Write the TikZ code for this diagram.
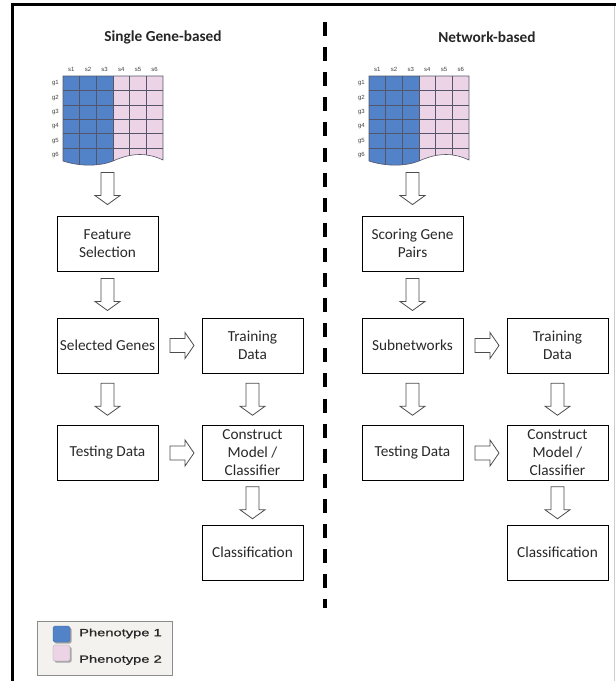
\documentclass[tikz,border=0pt]{standalone}
\usepackage{fontspec}
\setmainfont{Carlito}
\newfontfamily\arialf{Liberation Sans}
\newfontfamily\legendf[FakeStretch=1.4,FakeBold=0.6]{Liberation Sans}
\usetikzlibrary{calc}
\definecolor{phblue}{RGB}{82,130,200}
\definecolor{phpink}{RGB}{236,212,230}
\definecolor{gridc}{RGB}{85,85,105}
\definecolor{legbg}{RGB}{244,242,238}
\definecolor{txt}{RGB}{40,40,40}
\tikzset{
  box/.style={draw=black, line width=0.9pt, minimum width=101pt, minimum height=55pt,
    align=center, inner sep=1pt, text=txt, font=\fontsize{15.3}{18}\selectfont},
  title/.style={font=\fontsize{15.3}{18}\selectfont\bfseries, text=black!85},
  arrowline/.style={draw=black!70, line width=0.8pt, fill=white},
  darrow/.pic={\draw[arrowline] (-6.5,-16) -- (-6.5,7) -- (-12.5,7) -- (0,16) -- (12.5,7) -- (6.5,7) -- (6.5,-16) -- cycle;},
  rarrow/.pic={\draw[arrowline] (-12,-7) -- (3,-7) -- (3,-13) -- (12,0) -- (3,13) -- (3,7) -- (-12,7) -- cycle;},
  mlabel/.style={font=\arialf\fontsize{6}{6}\selectfont, text=black!75, inner sep=0pt},
  leglabel/.style={font=\legendf\fontsize{10.5}{12}\selectfont, text=black!85, anchor=west, inner sep=0pt},
}
\newcommand\genematrix[1]{%
  \begin{scope}[shift={(#1,0)}]
    \begin{scope}
      \clip (0,76) -- (100,76) -- (100,160) .. controls (85,153) and (70,152) .. (50,161) .. controls (35,167) and (15,166) .. (0,161) -- cycle;
      \fill[phblue] (0,70) rectangle (50,170);
      \fill[phpink] (50,70) rectangle (100,170);
      \foreach \i in {1,...,5} {\draw[gridc, line width=0.5pt] ({\i*100/6},70) -- ({\i*100/6},170);}
      \foreach \j in {1,...,5} {\draw[gridc, line width=0.5pt] (0,{76+\j*14.4}) -- (100,{76+\j*14.4});}
    \end{scope}
    \draw[gridc, line width=0.6pt] (0,76) -- (100,76) -- (100,160) .. controls (85,153) and (70,152) .. (50,161) .. controls (35,167) and (15,166) .. (0,161) -- cycle;
    \foreach \i in {1,...,6} {\node[mlabel] at ({(\i-0.5)*100/6},69.5) {s\i};}
    \foreach \j in {1,...,6} {\node[mlabel, anchor=east] at (-4,{76+(\j-0.5)*14.4}) {g\j};}
  \end{scope}}
\begin{document}
\begin{tikzpicture}[x=1pt,y=-1pt]
\useasboundingbox (0,0) rectangle (616,681);
% frame
\draw[line width=3pt] (12.5,681) -- (12.5,4) -- (616,4);
\draw[black!20, line width=0.8pt] (614,6) -- (614,681);
% divider
\draw[line width=3.5pt, dash pattern=on 14pt off 11.1pt] (325,22) -- (325,608);
% titles
\node[title] (t1) at (163,37) {Single Gene-based};
\node[title] (t2) at (487,37) {Network-based};
% matrices
\genematrix{63}
\genematrix{369}
% left column
\node[box] (fs) at (107.5,243.5) {Feature\\Selection};
\node[box] (sg) at (107.5,345.5) {Selected Genes};
\node[box] (td) at (252.5,345.5) {Training\\Data};
\node[box] (te) at (107.5,453) {Testing Data};
\node[box] (cm) at (252.5,453) {Construct\\Model /\\Classifier};
\node[box] (cl) at (252.5,552.5) {Classification};
% right column
\node[box] (sp) at (412.5,243.5) {Scoring Gene\\Pairs};
\node[box] (sn) at (412.5,345.5) {Subnetworks};
\node[box] (td2) at (557.5,345.5) {Training\\Data};
\node[box] (te2) at (412.5,453) {Testing Data};
\node[box] (cm2) at (557.5,453) {Construct\\Model /\\Classifier};
\node[box] (cl2) at (557.5,552.5) {Classification};
% arrows left
\path ($(fs.north)+(0,-27)$) pic {darrow};
\path ($(fs.south)!0.5!(sg.north)$) pic {darrow};
\path ($(sg.south)!0.5!(te.north)$) pic {darrow};
\path ($(td.south)!0.5!(cm.north)$) pic {darrow};
\path ($(cm.south)!0.5!(cl.north)$) pic {darrow};
\path ($(sg.east)!0.5!(td.west)+(2,0)$) pic {rarrow};
\path ($(te.east)!0.5!(cm.west)+(2,0)$) pic {rarrow};
% arrows right
\path ($(sp.north)+(0,-27)$) pic {darrow};
\path ($(sp.south)!0.5!(sn.north)$) pic {darrow};
\path ($(sn.south)!0.5!(te2.north)$) pic {darrow};
\path ($(td2.south)!0.5!(cm2.north)$) pic {darrow};
\path ($(cm2.south)!0.5!(cl2.north)$) pic {darrow};
\path ($(sn.east)!0.5!(td2.west)+(2,0)$) pic {rarrow};
\path ($(te2.east)!0.5!(cm2.west)+(2,0)$) pic {rarrow};
% legend
\draw[black!45, fill=legbg, line width=0.6pt] (37,621) rectangle (172,675);
\fill[black!35, rounded corners=1.5pt] (54.5,627.5) rectangle (71.5,643.5);
\fill[phblue, draw=phblue!70!black, line width=0.3pt, rounded corners=1.5pt] (53,626) rectangle (70,642);
\fill[black!35, rounded corners=1.5pt] (54.5,646.5) rectangle (71.5,662.5);
\fill[phpink, draw=black!40, line width=0.3pt, rounded corners=1.5pt] (53,645) rectangle (70,661);
\node[leglabel] (l1) at (79,633.5) {Phenotype 1};
\node[leglabel] (l2) at (79,660) {Phenotype 2};
\end{tikzpicture}
\end{document}
